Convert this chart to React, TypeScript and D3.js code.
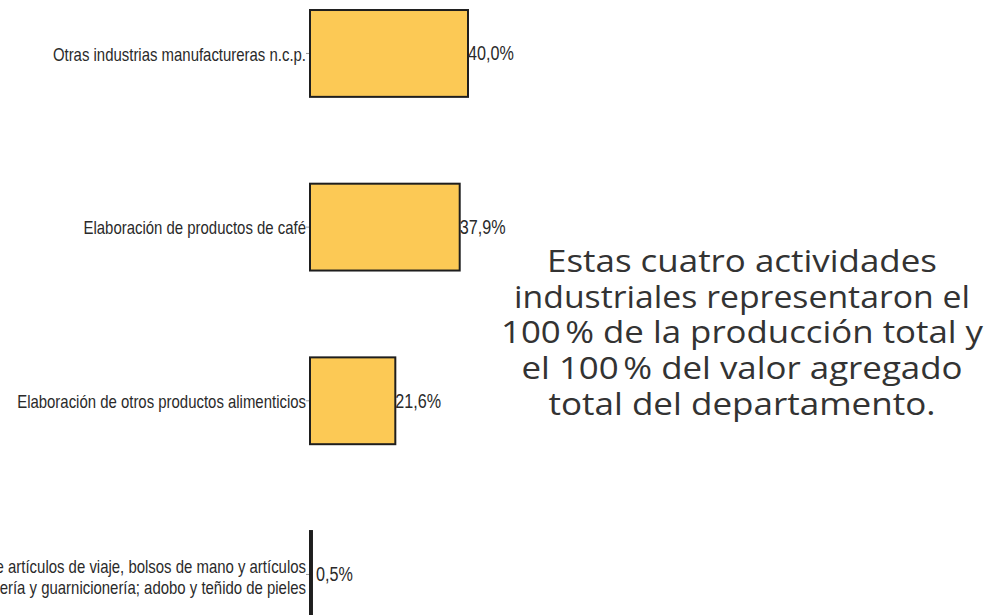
import React from "react";
import * as d3 from "d3";

const categories: string[][] = [
  ["Otras industrias manufactureras n.c.p."],
  ["Elaboración de productos de café"],
  ["Elaboración de otros productos alimenticios"],
  [
    "e artículos de viaje, bolsos de mano y artículos",
    "ería y guarnicionería; adobo y teñido de pieles",
  ],
];
const values: number[] = [40.0, 37.9, 21.6, 0.5];
const valueLabels: string[] = ["40,0%", "37,9%", "21,6%", "0,5%"];
const noteLines: string[] = [
  "Estas cuatro actividades",
  "industriales representaron el",
  "100\u202F% de la producción total y",
  "el 100\u202F% del valor agregado",
  "total del departamento.",
];
const noteWidths: number[] = [390, 456, 482, 441, 387];

const W = 987;
const H = 615;

export default function App() {
  const x0 = 310;
  const x = d3.scaleLinear().domain([0, 40]).range([x0, x0 + 158]);
  const ids = categories.map((_, i) => String(i));
  const y = d3
    .scaleBand<string>()
    .domain(ids)
    .range([-33.4, 661.3])
    .paddingInner(0.5)
    .paddingOuter(0.25);
  const bw = y.bandwidth();
  const labelFont = "'Liberation Sans', Arial, sans-serif";
  const sx = 0.83;
  return (
    <div style={{ position: "absolute", left: 0, top: 0 }}>
      <svg width={W} height={H} style={{ display: "block", background: "#fff" }}>
        {values.map((v, i) => {
          const yy = y(ids[i])!;
          const cy = yy + bw / 2;
          const lines = categories[i];
          const lh = 21;
          return (
            <g key={i}>
              <line x1={x0 - 4} x2={x0} y1={cy} y2={cy} stroke="#999" strokeWidth={1} />
              <rect
                x={x(0)}
                y={yy}
                width={Math.max(x(v) - x(0), 0.5)}
                height={bw}
                fill="#FCC955"
                stroke="#1e1e1e"
                strokeWidth={2}
              />
              {lines.map((ln, j) => (
                <text
                  key={j}
                  transform={`translate(${x0 - 4},${cy + (j - (lines.length - 1) / 2) * lh + (lines.length > 1 ? 3 : 1)}) scale(${sx},1)`}
                  dy="0.35em"
                  textAnchor="end"
                  fontFamily={labelFont}
                  fontSize={18}
                  fill="#2a2a2a"
                >
                  {ln}
                </text>
              ))}
              <text
                transform={`translate(${x(v) + (v < 2 ? 4 : 0)},${cy}) scale(${sx},1)`}
                dy="0.35em"
                fontFamily={labelFont}
                fontSize={19.5}
                fill="#2a2a2a"
              >
                {valueLabels[i]}
              </text>
            </g>
          );
        })}
        {noteLines.map((t, i) => (
          <text
            key={i}
            x={742}
            y={272 + i * 35.7}
            textAnchor="middle"
            fontFamily="'Open Sans', sans-serif"
            fontSize={31}
            textLength={noteWidths[i]}
            lengthAdjust="spacingAndGlyphs"
            fill="#333"
          >
            {t}
          </text>
        ))}
      </svg>
    </div>
  );
}
